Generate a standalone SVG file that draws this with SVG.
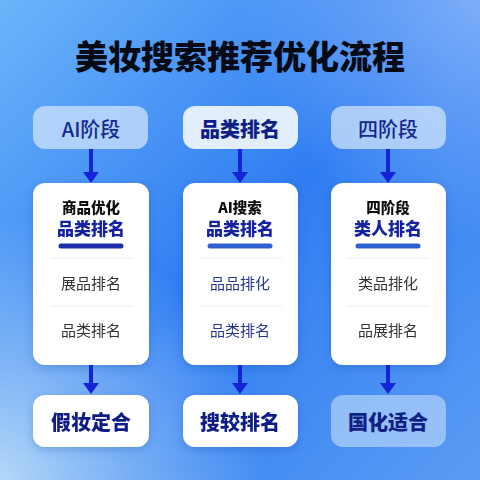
<svg xmlns="http://www.w3.org/2000/svg" width="480" height="480" viewBox="0 0 480 480">
<defs>
<linearGradient id="bg" x1="0" y1="0" x2="1" y2="1">
<stop offset="0" stop-color="#6cb4fa"/>
<stop offset="0.5" stop-color="#2f7df2"/>
<stop offset="1" stop-color="#5a9cf4"/>
</linearGradient>
<radialGradient id="bl" cx="0" cy="1" r="0.55">
<stop offset="0" stop-color="#b4d8f8" stop-opacity="1"/>
<stop offset="1" stop-color="#b4d8f8" stop-opacity="0"/>
</radialGradient>
<radialGradient id="tr" cx="1" cy="0" r="0.5">
<stop offset="0" stop-color="#86b4fa" stop-opacity="0.9"/>
<stop offset="1" stop-color="#86b4fa" stop-opacity="0"/>
</radialGradient>
<filter id="sh" x="-20%" y="-20%" width="140%" height="140%">
<feDropShadow dx="0" dy="3" stdDeviation="4" flood-color="#0a3a9a" flood-opacity="0.25"/>
</filter>
<marker id="ah" viewBox="0 0 11 16" refX="5" refY="8" markerWidth="11" markerHeight="16" markerUnits="userSpaceOnUse" orient="auto">
<path d="M0,0 L11,8 L0,16 Z" fill="#1424d6"/>
</marker>
</defs>
<style>
text{font-family:"Noto Sans CJK SC","Noto Sans",sans-serif;text-anchor:middle;dominant-baseline:central}
.title{font-size:33px;font-weight:900;fill:#050a14}
.top{fill:#cfe3fb;fill-opacity:0.75}
.topb{fill:#e2eefc}
.card{fill:#ffffff}
.lbl{font-size:20px;font-weight:500;fill:#132a8e}
.lblb{font-size:20px;font-weight:900;fill:#0f1f86}
.h1{font-size:14.5px;font-weight:900;fill:#111}
.h2{font-size:17px;font-weight:900;fill:#1424a0}
.it{font-size:15px;font-weight:400;fill:#333}
.itb{font-size:15px;font-weight:400;fill:#26358f}
.sep{stroke:#e6eaf0;stroke-width:1}
.bar{stroke-width:5;stroke-linecap:round}
.con{stroke:#1424d6;stroke-width:4;fill:none;marker-end:url(#ah)}
.bot{fill:#ffffff}
.botl{fill:#b4d3f8;fill-opacity:0.7}
</style>
<rect width="480" height="480" fill="url(#bg)"/>
<rect width="480" height="480" fill="url(#tr)"/>
<rect width="480" height="480" fill="url(#bl)"/>
<text class="title" x="240" y="55">美妆搜索推荐优化流程</text>

<g id="connectors">
<line class="con" x1="91" y1="149" x2="91" y2="177"/>
<line class="con" x1="240" y1="149" x2="240" y2="177"/>
<line class="con" x1="388" y1="149" x2="388" y2="177"/>
<line class="con" x1="91" y1="365" x2="91" y2="388"/>
<line class="con" x1="240" y1="365" x2="240" y2="388"/>
<line class="con" x1="388" y1="365" x2="388" y2="388"/>
</g>

<g id="top1"><rect class="top" x="33" y="106" width="115" height="43" rx="12"/><text class="lbl" x="91" y="128">AI阶段</text></g>
<g id="top2"><rect class="topb" x="183" y="106" width="115" height="43" rx="12"/><text class="lblb" x="240" y="128">品类排名</text></g>
<g id="top3"><rect class="top" x="331" y="106" width="115" height="43" rx="12"/><text class="lbl" x="388" y="128">四阶段</text></g>

<g id="card1" filter="url(#sh)"><rect class="card" x="33" y="183" width="116" height="182" rx="12"/>
<text class="h1" x="91" y="206">商品优化</text><text class="h2" x="91" y="227">品类排名</text>
<line class="bar" x1="61" y1="246" x2="121" y2="246" stroke="#1a2fa8"/>
<line class="sep" x1="50" y1="258" x2="133" y2="258"/>
<text class="it" x="91" y="282">展品排名</text>
<line class="sep" x1="50" y1="306" x2="133" y2="306"/>
<text class="it" x="91" y="329">品类排名</text></g>

<g id="card2" filter="url(#sh)"><rect class="card" x="183" y="183" width="115" height="182" rx="12"/>
<text class="h1" x="240" y="206">AI搜索</text><text class="h2" x="240" y="227">品类排名</text>
<line class="bar" x1="210" y1="246" x2="270" y2="246" stroke="#2d5fd0"/>
<line class="sep" x1="199" y1="258" x2="282" y2="258"/>
<text class="itb" x="240" y="282">品品排化</text>
<line class="sep" x1="199" y1="306" x2="282" y2="306"/>
<text class="itb" x="240" y="329">品类排名</text></g>

<g id="card3" filter="url(#sh)"><rect class="card" x="331" y="183" width="115" height="182" rx="12"/>
<text class="h1" x="388" y="206">四阶段</text><text class="h2" x="388" y="227">类人排名</text>
<line class="bar" x1="358" y1="246" x2="418" y2="246" stroke="#2d5fd0"/>
<line class="sep" x1="347" y1="258" x2="430" y2="258"/>
<text class="it" x="388" y="282">类品排化</text>
<line class="sep" x1="347" y1="306" x2="430" y2="306"/>
<text class="it" x="388" y="329">品展排名</text></g>

<g id="bot1" filter="url(#sh)"><rect class="bot" x="33" y="395" width="116" height="52" rx="12"/><text class="lblb" x="91" y="421">假妆定合</text></g>
<g id="bot2" filter="url(#sh)"><rect class="bot" x="183" y="395" width="115" height="52" rx="12"/><text class="lblb" x="240" y="421">搜较排名</text></g>
<g id="bot3"><rect class="botl" x="331" y="395" width="115" height="52" rx="12"/><text class="lblb" x="388" y="421">国化适合</text></g>
</svg>
